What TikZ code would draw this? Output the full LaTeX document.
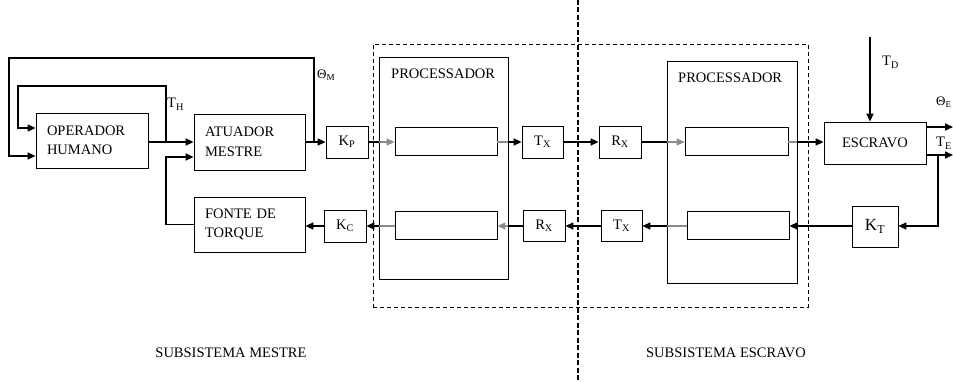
\documentclass[tikz,border=0pt]{standalone}
\usepackage{fontspec}
\setmainfont{Liberation Serif}
\usetikzlibrary{arrows.meta}
\begin{document}
\begin{tikzpicture}[x=1pt,y=-1pt,
  txt/.style={font=\fontsize{14.5}{19.5}\selectfont},
  blk/.style={draw, line width=0.8pt, inner sep=0pt, txt},
  lbox/.style={blk, align=left, inner xsep=11pt, text width=#1},
  frame/.style={draw, line width=0.8pt, inner sep=0pt},
  conn/.style={line width=1.6pt},
  gconn/.style={line width=1.3pt, draw=black!45},
  arr/.style={-{Triangle[length=8pt,width=7pt]}},
  lbl/.style={txt, inner sep=0pt, anchor=base west},
  glbl/.style={lbl, font=\fontsize{13}{15}\selectfont}]
\useasboundingbox (0,0) rectangle (953,382);

% subsystem divider
\coordinate (dvT) at (578,0);
\coordinate (dvB) at (578,382);
\draw[line width=1.7pt, dash pattern=on 5pt off 2.5pt] (dvT) -- (dvB);

% communication channel frame
\node[frame, dashed, dash pattern=on 4pt off 3pt, minimum width=435pt, minimum height=263pt] (net) at (590.5,175.5) {};

% master side blocks
\node[lbox=90pt, minimum height=55pt] (hum) at (92,140.5) {OPERADOR\\HUMANO};
\node[lbox=89pt, minimum height=56pt] (atu) at (249.5,142) {ATUADOR\\MESTRE};
\node[lbox=89pt, minimum height=55pt] (fon) at (249.5,224.5) {FONTE DE\\TORQUE};
\node[blk, minimum width=42pt, minimum height=32pt] (kp) at (347,142) {K\textsubscript{P}};
\node[blk, minimum width=42pt, minimum height=32pt] (kc) at (345,226) {K\textsubscript{C}};

% master processor
\node[frame, minimum width=129pt, minimum height=222pt] (procL) at (443.5,168) {};
\node[lbl, anchor=west] (ptL) at (391,74) {PROCESSADOR};
\node[frame, minimum width=102pt, minimum height=28pt] (inL1) at (446,141) {};
\node[frame, minimum width=102pt, minimum height=28pt] (inL2) at (446,225) {};
\node[blk, minimum width=41pt, minimum height=32pt] (txL) at (542.5,142) {T\textsubscript{X}};
\node[blk, minimum width=42pt, minimum height=31pt] (rxL) at (544,226) {R\textsubscript{X}};

% slave side blocks
\node[blk, minimum width=42pt, minimum height=32pt] (rxR) at (620,142) {R\textsubscript{X}};
\node[blk, minimum width=41pt, minimum height=31pt] (txR) at (621.5,226) {T\textsubscript{X}};
\node[frame, minimum width=130pt, minimum height=222pt] (procR) at (732,172) {};
\node[lbl, anchor=west] (ptR) at (678,78) {PROCESSADOR};
\node[frame, minimum width=103pt, minimum height=28pt] (inR1) at (736.5,141) {};
\node[frame, minimum width=102pt, minimum height=28pt] (inR2) at (738,225) {};
\node[blk, minimum width=102pt, minimum height=42pt] (esc) at (875,143) {ESCRAVO};
\node[blk, minimum width=46pt, minimum height=41pt, font=\fontsize{17}{20}\selectfont] (kt) at (875,226.5) {K\textsubscript{T}};

% signal rows
\coordinate (rowA) at (0,142);
\coordinate (rowB) at (0,226);

% operator and actuator loops
\coordinate (jH) at (166,142);
\coordinate (jM) at (314,142);
\draw[conn,arr] (hum.east |- rowA) -- (atu.west |- rowA);
\draw[conn,arr] (jH) -- (166,86) -- (18,86) -- (18,128) -- (hum.west |- 0,128);
\draw[conn,arr] (atu.east |- rowA) -- (kp.west |- rowA);
\draw[conn,arr] (jM) -- (314,58) -- (9,58) -- (9,156) -- (hum.west |- 0,156);
\draw[conn,arr] (fon.west) -| (166,157) -- (atu.west |- 0,157);

% forward path
\draw[conn] (kp.east |- rowA) -- (procL.west |- rowA);
\draw[gconn,arr] (procL.west |- rowA) -- (inL1.west |- rowA);
\draw[gconn] (inL1.east |- rowA) -- (procL.east |- rowA);
\draw[conn,arr] (procL.east |- rowA) -- (txL.west |- rowA);
\draw[conn,arr] (txL.east |- rowA) -- (rxR.west |- rowA);
\draw[conn] (rxR.east |- rowA) -- (procR.west |- rowA);
\draw[gconn,arr] (procR.west |- rowA) -- (inR1.west |- rowA);
\draw[gconn] (inR1.east |- rowA) -- (procR.east |- rowA);
\draw[conn,arr] (procR.east |- rowA) -- (esc.west |- rowA);

% disturbance and outputs
\coordinate (td) at (870,37);
\draw[conn,arr] (td) -- (td |- esc.north);
\coordinate (outT) at (953,127);
\coordinate (outB) at (953,155);
\draw[conn,arr] (esc.east |- outT) -- (outT);
\draw[conn,arr] (esc.east |- outB) -- (outB);

% force feedback path
\coordinate (jE) at (938,155);
\draw[conn,arr] (jE) -- (jE |- rowB) -- (kt.east |- rowB);
\draw[conn,arr] (kt.west |- rowB) -- (inR2.east |- rowB);
\draw[gconn] (inR2.west |- rowB) -- (procR.west |- rowB);
\draw[conn,arr] (procR.west |- rowB) -- (txR.east |- rowB);
\draw[conn,arr] (txR.west |- rowB) -- (rxL.east |- rowB);
\draw[conn] (rxL.west |- rowB) -- (procL.east |- rowB);
\draw[gconn,arr] (procL.east |- rowB) -- (inL2.east |- rowB);
\draw[gconn] (inL2.west |- rowB) -- (procL.west |- rowB);
\draw[conn,arr] (procL.west |- rowB) -- (kc.east |- rowB);
\draw[conn,arr] (kc.west |- rowB) -- (fon.east |- rowB);

% signal labels
\node[lbl] (lTH) at (167,108) {T\textsubscript{H}};
\node[glbl] (lQM) at (317,79) {Θ\textsubscript{M}};
\node[lbl] (lTD) at (882,66) {T\textsubscript{D}};
\node[glbl] (lQE) at (936,106) {Θ\textsubscript{E}};
\node[lbl] (lTE) at (936,147) {T\textsubscript{E}};

% subsystem captions
\node[txt] (subM) at (231,353) {SUBSISTEMA MESTRE};
\node[txt] (subE) at (726,353) {SUBSISTEMA ESCRAVO};
\end{tikzpicture}
\end{document}
